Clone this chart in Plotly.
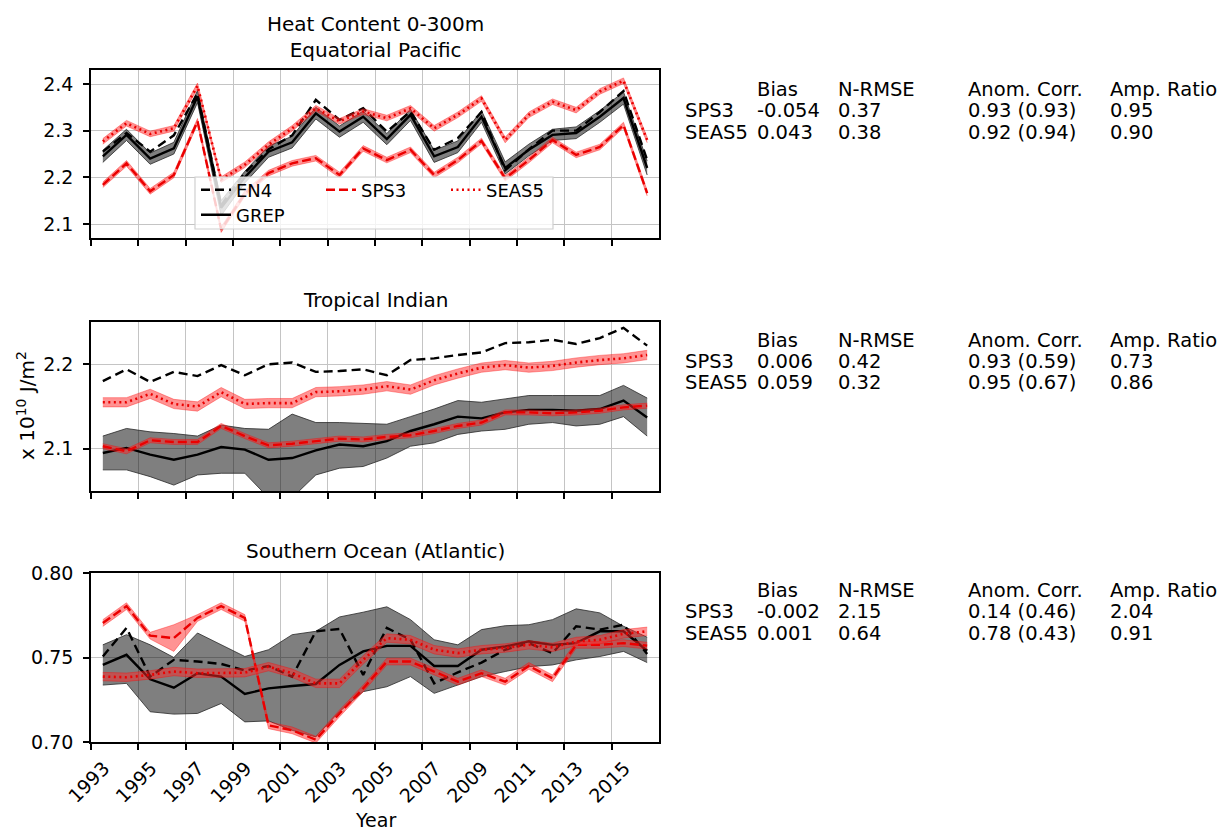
import plotly.graph_objects as go

# ---------------- data ----------------
YEARS = list(range(1993, 2017))

# Equatorial Pacific (x 10^10 J/m^2)
EP_EN4 = [2.255, 2.295, 2.255, 2.29, 2.38, 2.14, 2.21, 2.26, 2.29, 2.366, 2.323, 2.348,
          2.298, 2.341, 2.259, 2.284, 2.34, 2.215, 2.26, 2.30, 2.30, 2.34, 2.385, 2.237]
EP_GREP = [2.245, 2.291, 2.24, 2.262, 2.373, 2.135, 2.20, 2.255, 2.275, 2.337, 2.298, 2.33,
           2.282, 2.334, 2.245, 2.265, 2.33, 2.22, 2.259, 2.291, 2.295, 2.33, 2.37, 2.22]
EP_GREP_LO = [2.232, 2.279, 2.228, 2.25, 2.36, 2.118, 2.188, 2.243, 2.263, 2.325, 2.286, 2.318,
              2.27, 2.322, 2.232, 2.253, 2.318, 2.207, 2.246, 2.279, 2.283, 2.318, 2.357, 2.205]
EP_GREP_HI = [2.258, 2.303, 2.252, 2.275, 2.386, 2.15, 2.213, 2.267, 2.288, 2.35, 2.31, 2.342,
              2.294, 2.346, 2.258, 2.278, 2.343, 2.233, 2.271, 2.303, 2.308, 2.343, 2.383, 2.235]
EP_SPS3 = [2.184, 2.23, 2.17, 2.205, 2.32, 2.088, 2.165, 2.209, 2.23, 2.241, 2.205, 2.262,
           2.237, 2.259, 2.205, 2.237, 2.278, 2.198, 2.237, 2.28, 2.248, 2.265, 2.312, 2.166]
EP_SPS3_SPREAD = [0.006] * 24
EP_SEAS5 = [2.277, 2.316, 2.293, 2.305, 2.396, 2.195, 2.227, 2.27, 2.305, 2.348, 2.32, 2.341,
            2.327, 2.348, 2.305, 2.334, 2.369, 2.28, 2.334, 2.362, 2.344, 2.384, 2.407, 2.28]
EP_SEAS5_SPREAD = [0.006] * 24

# Tropical Indian
TI_EN4 = [2.18, 2.194, 2.179, 2.191, 2.186, 2.199, 2.187, 2.2, 2.202, 2.191, 2.192, 2.194,
          2.187, 2.205, 2.207, 2.211, 2.214, 2.225, 2.226, 2.229, 2.224, 2.231, 2.243, 2.222]
TI_GREP = [2.095, 2.101, 2.093, 2.087, 2.093, 2.102, 2.099, 2.087, 2.089, 2.098, 2.105, 2.103,
           2.109, 2.121, 2.129, 2.138, 2.136, 2.143, 2.146, 2.146, 2.145, 2.147, 2.157, 2.137]
TI_GREP_LO = [2.075, 2.075, 2.067, 2.057, 2.069, 2.071, 2.071, 2.042, 2.042, 2.069, 2.077, 2.079,
              2.089, 2.103, 2.107, 2.117, 2.121, 2.123, 2.129, 2.131, 2.127, 2.129, 2.138, 2.115]
TI_GREP_HI = [2.115, 2.124, 2.12, 2.118, 2.115, 2.128, 2.124, 2.123, 2.141, 2.131, 2.131, 2.13,
              2.129, 2.138, 2.147, 2.157, 2.155, 2.159, 2.163, 2.163, 2.163, 2.163, 2.175, 2.16]
TI_SPS3 = [2.103, 2.097, 2.11, 2.108, 2.108, 2.127, 2.115, 2.104, 2.106, 2.109, 2.112, 2.111,
           2.114, 2.116, 2.121, 2.127, 2.131, 2.143, 2.143, 2.142, 2.143, 2.145, 2.149, 2.151]
TI_SPS3_SPREAD = [0.003] * 24
TI_SEAS5 = [2.155, 2.155, 2.165, 2.153, 2.15, 2.167, 2.153, 2.154, 2.154, 2.167, 2.168, 2.17,
            2.174, 2.17, 2.181, 2.189, 2.196, 2.199, 2.196, 2.198, 2.202, 2.205, 2.207, 2.211]
TI_SEAS5_SPREAD = [0.0055] * 24

# Southern Ocean (Atlantic)
SO_EN4 = [0.7506, 0.7675, 0.7387, 0.7486, 0.7476, 0.7462, 0.7423, 0.745, 0.7387, 0.7655, 0.7669, 0.7397,
          0.7675, 0.7605, 0.7347, 0.7412, 0.747, 0.7546, 0.7585, 0.7526, 0.7685, 0.7665, 0.7694, 0.752]
SO_GREP = [0.7456, 0.7516, 0.7371, 0.7321, 0.7407, 0.7387, 0.7284, 0.7317, 0.7331, 0.7343, 0.7456, 0.7536,
           0.7569, 0.7569, 0.745, 0.745, 0.7546, 0.7565, 0.7595, 0.7575, 0.7585, 0.7655, 0.7655, 0.754]
SO_GREP_LO = [0.7337, 0.7347, 0.7179, 0.7165, 0.7169, 0.7228, 0.7119, 0.7125, 0.7069, 0.703, 0.718, 0.7298,
              0.7327, 0.7387, 0.7288, 0.7337, 0.7387, 0.7417, 0.7446, 0.7456, 0.7486, 0.7506, 0.7536, 0.747]
SO_GREP_HI = [0.7575, 0.7635, 0.7575, 0.75, 0.7645, 0.7575, 0.7506, 0.7546, 0.7635, 0.7655, 0.774, 0.7768,
              0.78, 0.7724, 0.7605, 0.7575, 0.7665, 0.7688, 0.7694, 0.7724, 0.7788, 0.7764, 0.7685, 0.762]
SO_SPS3 = [0.7704, 0.7804, 0.7629, 0.7615, 0.7734, 0.7804, 0.7734, 0.7099, 0.7069, 0.7014, 0.7169, 0.7317,
           0.7476, 0.7476, 0.7417, 0.7357, 0.7407, 0.7357, 0.745, 0.7377, 0.7575, 0.7575, 0.7585, 0.757]
SO_SPS3_LO = [0.7684, 0.7784, 0.7609, 0.7536, 0.7714, 0.7784, 0.7714, 0.7079, 0.7049, 0.6994, 0.7149, 0.7297,
              0.7456, 0.7456, 0.7397, 0.7337, 0.7387, 0.7337, 0.743, 0.7357, 0.7555, 0.7555, 0.7565, 0.755]
SO_SPS3_HI = [0.7724, 0.7824, 0.7649, 0.7694, 0.7754, 0.7824, 0.7754, 0.7119, 0.7089, 0.7034, 0.7189, 0.7337,
              0.7496, 0.7496, 0.7437, 0.7377, 0.7427, 0.7377, 0.747, 0.7397, 0.7595, 0.7595, 0.7605, 0.759]
SO_SEAS5 = [0.7387, 0.7383, 0.7397, 0.7417, 0.7407, 0.7407, 0.741, 0.7446, 0.7407, 0.7347, 0.7347, 0.7486,
            0.7615, 0.7605, 0.7546, 0.7526, 0.7546, 0.7556, 0.7575, 0.756, 0.7595, 0.7605, 0.764, 0.7655]
SO_SEAS5_SPREAD = [0.0025] * 24

TITLES = ["Heat Content 0-300m<br>Equatorial Pacific", "Tropical Indian", "Southern Ocean (Atlantic)"]
STAT_HEADERS = ["Bias", "N-RMSE", "Anom. Corr.", "Amp. Ratio"]
STAT_MODELS = ["SPS3", "SEAS5"]
EP_STATS = [["-0.054", "0.37", "0.93 (0.93)", "0.95"], ["0.043", "0.38", "0.92 (0.94)", "0.90"]]
TI_STATS = [["0.006", "0.42", "0.93 (0.59)", "0.73"], ["0.059", "0.32", "0.95 (0.67)", "0.86"]]
SO_STATS = [["-0.002", "2.15", "0.14 (0.46)", "2.04"], ["0.001", "0.64", "0.78 (0.43)", "0.91"]]
XTICKS = list(range(1993, 2017, 2))

# ---------------- layout helpers ----------------
OFF = 8          # default body margin of the html page
FW, FH = 1227 - OFF, 831 - OFF
FONT = "DejaVu Sans"


def PX(s):
    return (s - OFF) / FW


def PY(s):
    return 1 - (s - OFF) / FH


X0, X1 = 91, 659
PANELS = [
    dict(top=70, bot=238, yr=[2.07, 2.43], tv=[2.1, 2.2, 2.3, 2.4], fmt="%.1f", title_y=37),
    dict(top=322, bot=491, yr=[2.05, 2.25], tv=[2.1, 2.2], fmt="%.1f", title_y=300),
    dict(top=573, bot=742, yr=[0.70, 0.80], tv=[0.70, 0.75, 0.80], fmt="%.2f", title_y=551),
]

X = [y + 0.5 for y in YEARS]

RED = "rgb(235,0,0)"
RED_FILL = "rgba(255,40,40,0.5)"
GRAY_FILL = "rgba(0,0,0,0.5)"
GRAY_EDGE = "rgba(40,40,40,0.8)"

fig = go.Figure()


def add_band(lo, hi, fill, edge, ew, xa, ya):
    fig.add_trace(go.Scatter(x=X, y=lo, mode="lines", line=dict(color=edge, width=ew),
                             xaxis=xa, yaxis=ya, showlegend=False, hoverinfo="skip"))
    fig.add_trace(go.Scatter(x=X, y=hi, mode="lines", fill="tonexty", fillcolor=fill,
                             line=dict(color=edge, width=ew),
                             xaxis=xa, yaxis=ya, showlegend=False, hoverinfo="skip"))


def add_line(y, name, color, dash, width, xa, ya, legend=None):
    fig.add_trace(go.Scatter(x=X, y=y, mode="lines", name=name,
                             line=dict(color=color, dash=dash, width=width),
                             xaxis=xa, yaxis=ya,
                             showlegend=legend is not None,
                             legend=legend if legend else "legend"))


def pm(vals, spread, sign):
    return [v + sign * s for v, s in zip(vals, spread)]


DASH_BLK = "9px,5px"
DASH_RED = "9px,4px"
DOT_RED = "2px,3.5px"

datasets = [
    dict(en4=EP_EN4, grep=EP_GREP, glo=EP_GREP_LO, ghi=EP_GREP_HI,
         sps=EP_SPS3, slo=pm(EP_SPS3, EP_SPS3_SPREAD, -1), shi=pm(EP_SPS3, EP_SPS3_SPREAD, 1),
         sea=EP_SEAS5, elo=pm(EP_SEAS5, EP_SEAS5_SPREAD, -1), ehi=pm(EP_SEAS5, EP_SEAS5_SPREAD, 1)),
    dict(en4=TI_EN4, grep=TI_GREP, glo=TI_GREP_LO, ghi=TI_GREP_HI,
         sps=TI_SPS3, slo=pm(TI_SPS3, TI_SPS3_SPREAD, -1), shi=pm(TI_SPS3, TI_SPS3_SPREAD, 1),
         sea=TI_SEAS5, elo=pm(TI_SEAS5, TI_SEAS5_SPREAD, -1), ehi=pm(TI_SEAS5, TI_SEAS5_SPREAD, 1)),
    dict(en4=SO_EN4, grep=SO_GREP, glo=SO_GREP_LO, ghi=SO_GREP_HI,
         sps=SO_SPS3, slo=SO_SPS3_LO, shi=SO_SPS3_HI,
         sea=SO_SEAS5, elo=pm(SO_SEAS5, SO_SEAS5_SPREAD, -1), ehi=pm(SO_SEAS5, SO_SEAS5_SPREAD, 1)),
]

for i, d in enumerate(datasets):
    xa = "x" if i == 0 else f"x{i+1}"
    ya = "y" if i == 0 else f"y{i+1}"
    first = i == 0
    add_band(d["glo"], d["ghi"], GRAY_FILL, GRAY_EDGE, 1, xa, ya)
    add_line(d["grep"], "GREP", "black", "solid", 2.4, xa, ya, "legend2" if first else None)
    add_line(d["en4"], "EN4", "black", DASH_BLK, 2.4, xa, ya, "legend" if first else None)
    add_band(d["slo"], d["shi"], RED_FILL, "rgba(255,0,0,0.35)", 1, xa, ya)
    add_line(d["sps"], "SPS3", RED, DASH_RED, 2.4, xa, ya, "legend" if first else None)
    add_band(d["elo"], d["ehi"], RED_FILL, "rgba(255,0,0,0.35)", 1, xa, ya)
    add_line(d["sea"], "SEAS5", RED, DOT_RED, 2.6, xa, ya, "legend" if first else None)

layout = dict(
    width=FW, height=FH, autosize=False,
    margin=dict(l=0, r=0, t=0, b=0, autoexpand=False),
    paper_bgcolor="white", plot_bgcolor="white",
    font=dict(family=FONT, size=19, color="black"),
    showlegend=True,
)

annotations = []
for i, p in enumerate(PANELS):
    sfx = "" if i == 0 else str(i + 1)
    last = i == 2
    layout["xaxis" + sfx] = dict(
        domain=[PX(X0), PX(X1)], range=[1993, 2017], anchor="y" + sfx, automargin=False,
        tickmode="array", tickvals=XTICKS, ticktext=[str(t) for t in XTICKS],
        showticklabels=last, tickangle=-45, tickfont=dict(size=19),
        ticklabelshift=13, ticklabelstandoff=0,
        ticks="outside", ticklen=6, tickwidth=1.5, tickcolor="black",
        showgrid=True, gridcolor="#c4c4c4", gridwidth=1.4,
        showline=True, linecolor="black", linewidth=1.6, mirror=True, zeroline=False,
    )
    layout["yaxis" + sfx] = dict(
        domain=[PY(p["bot"]), PY(p["top"])], range=p["yr"], anchor="x" + sfx, automargin=False,
        tickmode="array", tickvals=p["tv"], ticktext=[p["fmt"] % v for v in p["tv"]],
        tickfont=dict(size=19), ticklabelstandoff=6,
        ticks="outside", ticklen=6, tickwidth=1.5, tickcolor="black",
        showgrid=True, gridcolor="#c4c4c4", gridwidth=1.4,
        showline=True, linecolor="black", linewidth=1.6, mirror=True, zeroline=False,
    )

# panel titles
for i, p in enumerate(PANELS):
    annotations.append(dict(text=TITLES[i], x=PX((X0 + X1) / 2), y=PY(p["title_y"]),
                            xref="paper", yref="paper", xanchor="center", yanchor="middle",
                            showarrow=False, font=dict(size=20, family=FONT)))

# stats tables
COLS = [755, 836, 966, 1108]
ROW0 = [89, 340, 590]
SFS = 19.5
for i, stats in enumerate([EP_STATS, TI_STATS, SO_STATS]):
    y0 = ROW0[i]
    for hdr, cx in zip(STAT_HEADERS, COLS):
        annotations.append(dict(text=hdr, x=PX(cx), y=PY(y0), xref="paper", yref="paper",
                                xanchor="left", yanchor="middle", showarrow=False, font=dict(size=SFS)))
    for r, (model, row) in enumerate(zip(STAT_MODELS, stats)):
        yy = y0 + 21.5 * (r + 1)
        annotations.append(dict(text=model, x=PX(683), y=PY(yy), xref="paper", yref="paper",
                                xanchor="left", yanchor="middle", showarrow=False, font=dict(size=SFS)))
        for val, cx in zip(row, COLS):
            annotations.append(dict(text=val, x=PX(cx), y=PY(yy), xref="paper", yref="paper",
                                    xanchor="left", yanchor="middle", showarrow=False, font=dict(size=SFS)))

# axis labels
annotations.append(dict(text="x 10<sup>10</sup> J/m<sup>2</sup>", x=PX(26), y=PY(406),
                        xref="paper", yref="paper", xanchor="center", yanchor="middle",
                        textangle=-90, showarrow=False, font=dict(size=20)))
annotations.append(dict(text="Year", x=PX((X0 + X1) / 2), y=PY(820), xref="paper", yref="paper",
                        xanchor="center", yanchor="middle", showarrow=False, font=dict(size=19)))

layout["annotations"] = annotations

# legend box (matplotlib-style frame)
layout["shapes"] = [dict(type="rect", xref="paper", yref="paper",
                         x0=PX(195), x1=PX(553), y0=PY(229), y1=PY(177),
                         fillcolor="rgba(255,255,255,0.8)", line=dict(color="#d0d0d0", width=1.2),
                         layer="above")]
layout["legend"] = dict(orientation="h", x=PX(196), y=PY(190), xanchor="left", yanchor="middle",
                        bgcolor="rgba(0,0,0,0)", borderwidth=0, font=dict(size=18),
                        entrywidth=80, itemwidth=30, traceorder="normal")
layout["legend2"] = dict(orientation="h", x=PX(196), y=PY(215), xanchor="left", yanchor="middle",
                         bgcolor="rgba(0,0,0,0)", borderwidth=0, font=dict(size=18), itemwidth=30)

fig.update_layout(**layout)
fig.write_html("out.html")
